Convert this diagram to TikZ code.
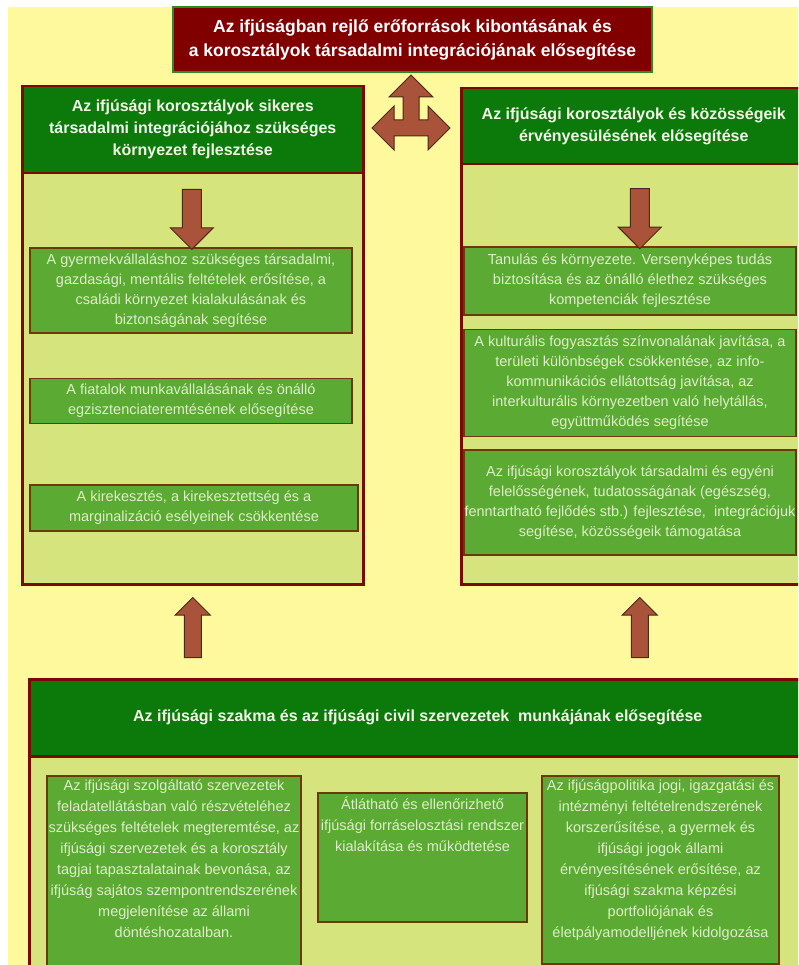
\documentclass[tikz,border=0pt]{standalone}
\usepackage{fontspec}
\setmainfont{Liberation Sans}
\usetikzlibrary{positioning,shapes.arrows,calc}

\definecolor{bgyellow}{HTML}{FFF99E}
\definecolor{titlefill}{HTML}{800000}
\definecolor{titleborder}{HTML}{2E8B22}
\definecolor{headfill}{HTML}{0B7A0B}
\definecolor{headtext}{HTML}{F2F8E6}
\definecolor{panelfill}{HTML}{D5E47C}
\definecolor{panelborder}{HTML}{7A0A00}
\definecolor{itemfill}{HTML}{5BAA34}
\definecolor{itemborder}{HTML}{6B3A08}
\definecolor{itemtext}{HTML}{DDEFC6}
\definecolor{arrowfill}{HTML}{A9533A}
\definecolor{arrowborder}{HTML}{4A2A12}

\begin{document}
\begin{tikzpicture}[
x = 1pt, y = -1pt,
node distance = 44pt and 20pt,
title/.style={rectangle, draw=titleborder, line width=2.5pt, fill=titlefill, text=white, align=center, font=\bfseries\fontsize{17.5}{24}\selectfont, minimum width=479pt, minimum height=65pt},
panel/.style={rectangle, draw=panelborder, line width=2.5pt, fill=panelfill, anchor=north west, inner sep=0pt},
head/.style={panel, fill=headfill, text=headtext, align=center, font=\bfseries\fontsize{16}{22}\selectfont},
item/.style={rectangle, draw=itemborder, line width=1.5pt, fill=itemfill, text=itemtext, align=center, inner sep=0pt, font=\fontsize{14.5}{20}\selectfont},
bitem/.style={item, anchor=north, inner ysep=4pt, font=\fontsize{14.5}{21}\selectfont},
fat/.style={single arrow, draw=arrowborder, fill=arrowfill, line width=1pt, inner xsep=0pt, inner ysep=9pt, single arrow head extend=12pt, single arrow tip angle=90, minimum height=60pt, rotate=#1},
thin/.style={fat=#1, inner ysep=8pt, single arrow head extend=9pt}]

\useasboundingbox (0,0) rectangle (798,965);
\clip (0,0) rectangle (798,965);
\fill[white] (0,0) rectangle (798,965);
\fill[bgyellow] (8,7) rectangle (798,965);

% goal
\node[title] (goal) at (412.5,39.5) {Az ifjúságban rejlő erőforrások kibontásának és\\a korosztályok társadalmi integrációjának elősegítése};

% left column
\node[panel, minimum width=341pt, minimum height=498pt] (lpanel) at (21,85) {};
\node[head, minimum width=341pt, minimum height=87pt] (lhead) at (21,85) {Az ifjúsági korosztályok sikeres\\társadalmi integrációjához szükséges\\környezet fejlesztése};
\node[item, minimum width=322pt, minimum height=85pt] (lb1) at (191,290.5) {A gyermekvállaláshoz szükséges társadalmi,\\gazdasági, mentális feltételek erősítése, a\\családi környezet kialakulásának és\\biztonságának segítése};
\node[item, minimum width=322pt, minimum height=45pt] (lb2) [below = of lb1] {A fiatalok munkavállalásának és önálló\\egzisztenciateremtésének elősegítése};
\node[item, minimum width=328pt, minimum height=46pt] (lb3) [below = 60pt of lb2, xshift=3pt] {A kirekesztés, a kirekesztettség és a\\marginalizáció esélyeinek csökkentése};

% right column
\node[panel, minimum width=345pt, minimum height=496pt] (rpanel) at (460,87) {};
\node[head, minimum width=345pt, minimum height=76pt] (rhead) at (460,87) {Az ifjúsági korosztályok és közösségeik\\érvényesülésének elősegítése};
\node[item, minimum width=332pt, minimum height=68pt] (rb1) at (630,281) {Tanulás és környezete. Versenyképes tudás\\biztosítása és az önálló élethez szükséges\\kompetenciák fejlesztése};
\node[item, minimum width=332pt, minimum height=107pt] (rb2) [below = 13pt of rb1] {A kulturális fogyasztás színvonalának javítása, a\\területi különbségek csökkentése, az info-\\kommunikációs ellátottság javítása, az\\interkulturális környezetben való helytállás,\\együttműködés segítése};
\node[item, minimum width=332pt, minimum height=105pt] (rb3) [below = 12pt of rb2] {Az ifjúsági korosztályok társadalmi és egyéni\\felelősségének, tudatosságának (egészség,\\fenntartható fejlődés stb.) fejlesztése, \ integrációjuk\\segítése, közösségeik támogatása};

% bottom row
\node[panel, minimum width=777pt, minimum height=300pt] (bpanel) at (28,678) {};
\node[head, minimum width=777pt, minimum height=77pt] (bhead) at (28,678) {Az ifjúsági szakma és az ifjúsági civil szervezetek \ munkájának elősegítése};
\node[bitem] (bb1) at (174,775) {\parbox[t][197pt][t]{254pt}{\centering Az ifjúsági szolgáltató szervezetek\\feladatellátásban való részvételéhez\\szükséges feltételek megteremtése, az\\ifjúsági szervezetek és a korosztály\\tagjai tapasztalatainak bevonása, az\\ifjúság sajátos szempontrendszerének\\megjelenítése az állami\\döntéshozatalban.}};
\node[bitem] (bb2) at (422.5,792) {\parbox[t][121pt][t]{209pt}{\centering Átlátható és ellenőrizhető\\ifjúsági forráselosztási rendszer\\kialakítása és működtetése}};
\node[bitem] (bb3) at (660.5,775) {\parbox[t][180pt][t]{237pt}{\centering Az ifjúságpolitika jogi, igazgatási és\\intézményi feltételrendszerének\\korszerűsítése, a gyermek és\\ifjúsági jogok állami\\érvényesítésének erősítése, az\\ifjúsági szakma képzési\\portfoliójának és\\életpályamodelljének kidolgozása}};

% arrows
\draw[draw=arrowborder, fill=arrowfill, line width=1pt, line join=miter]
  (411,75) -- (433,97) -- (419,97) -- (419,120) -- (428,120) -- (428,106) -- (450,128)
  -- (428,150) -- (428,136) -- (394,136) -- (394,150) -- (372,128) -- (394,106)
  -- (394,120) -- (403,120) -- (403,97) -- (389,97) -- cycle;

\path (lhead.south) -- node[fat=-90, pos=.55] (ldown) {} (lb1.north);
\coordinate (rtop) at ($(rhead.south)+(6,0)$);
\path (rtop) -- node[fat=-90, pos=.6] (rdown) {} (rtop |- rb1.north);

\path (lpanel.south) -- node[thin=90] (lup) {} (lpanel.south |- bhead.north);
\coordinate (rfoot) at ($(rpanel.south)+(6,0)$);
\path (rfoot) -- node[thin=90] (rup) {} (rfoot |- bhead.north);
\end{tikzpicture}
\end{document}
